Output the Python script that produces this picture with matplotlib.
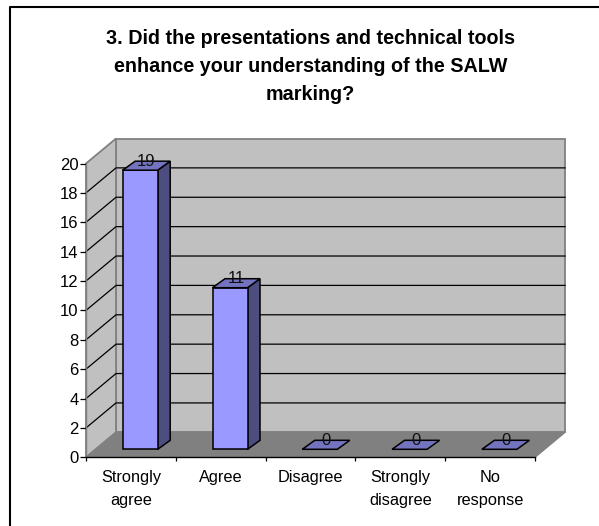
import matplotlib
matplotlib.use("Agg")
import matplotlib.pyplot as plt
from matplotlib.patches import Polygon

plt.rcParams['font.family'] = ['Liberation Sans', 'DejaVu Sans']

title = "3. Did the presentations and technical tools\nenhance your understanding of the SALW\nmarking?"
categories = ["Strongly\nagree", "Agree", "Disagree", "Strongly\ndisagree", "No\nresponse"]
values = [19, 11, 0, 0, 0]
yticks = list(range(0, 21, 2))

W, H = 599, 526
fig = plt.figure(figsize=(W / 100, H / 100), dpi=100)

L, R, T, B = 86, 535, 163.5, 457.3
ax = fig.add_axes([L / W, 1 - B / H, (R - L) / W, (B - T) / H])
ax.set_xlim(0, 5)
ax.set_ylim(0, 20)
ax.patch.set_visible(False)

DX = 30 / ((R - L) / 5)
DY = 25 / ((B - T) / 20)
n = len(categories)

def poly(pts, fc, ec, lw=1.0, z=2):
    ax.add_patch(Polygon(pts, closed=True, fc=fc, ec=ec, lw=lw, zorder=z, clip_on=False, joinstyle='miter'))

poly([(DX, DY), (n + DX, DY), (n + DX, 20 + DY), (DX, 20 + DY)], '#C0C0C0', '#808080', 1.3, 1)
poly([(0, 0), (DX, DY), (DX, 20 + DY), (0, 20)], '#C0C0C0', '#808080', 1.3, 1)
poly([(0, 0), (n, 0), (n + DX, DY), (DX, DY)], '#808080', '#808080', 1.0, 1.5)

for t in yticks[1:-1]:
    ax.plot([0, DX, n + DX], [t, t + DY, t + DY], color='black', lw=0.9, zorder=1.8, clip_on=False)

ux, uy = (R - L) / 5, (B - T) / 20
bw = 35 / ux
d0y = 8 / uy
ddx, ddy = 12.5 / ux, 9 / uy
start = (122.7 - L) / ux
for i, v in enumerate(values):
    bx0 = i + start
    bx1 = bx0 + bw
    by = d0y
    if v > 0:
        poly([(bx1, by), (bx1 + ddx, by + ddy), (bx1 + ddx, by + ddy + v), (bx1, by + v)], '#4D4D80', 'black', 1.1, 3)
        poly([(bx0, by), (bx1, by), (bx1, by + v), (bx0, by + v)], '#9999FF', 'black', 1.1, 3)
    poly([(bx0, by + v), (bx1, by + v), (bx1 + ddx, by + v + ddy), (bx0 + ddx, by + v + ddy)], '#7373BF', 'black', 1.1, 3)
    ax.text((bx0 + bx1 + ddx) / 2, by + v + ddy, str(v), ha='center', va='center',
            fontsize=12, color='#111111', zorder=4)

for s in ['top', 'right']:
    ax.spines[s].set_visible(False)
ax.spines['left'].set_color('#808080')
ax.spines['bottom'].set_color('black')
for s in ['left', 'bottom']:
    ax.spines[s].set_linewidth(1.0)
    ax.spines[s].set_zorder(2.5)

ax.set_yticks(yticks)
ax.set_xticks(range(n + 1))
ax.set_xticklabels([])
ax.set_xticks([i + 0.5 for i in range(n)], minor=True)
ax.set_xticklabels(categories, minor=True, linespacing=1.62)
ax.tick_params(axis='x', which='minor', length=0, pad=9.5, labelsize=11.8, color='black')
ax.tick_params(axis='x', which='major', length=3, width=0.9)
ax.tick_params(axis='y', length=4.3, width=0.9, pad=1, labelsize=12)

fig.text(310.5 / W, 1 - 67 / H, title, ha='center', va='center', fontsize=14.2,
         fontweight='bold', linespacing=1.6)

fig.add_artist(plt.Line2D([10 / W, 10 / W, 1], [0, 1 - 7 / H, 1 - 7 / H], color='black', lw=1.5))

fig.savefig('out.png', dpi=100)
